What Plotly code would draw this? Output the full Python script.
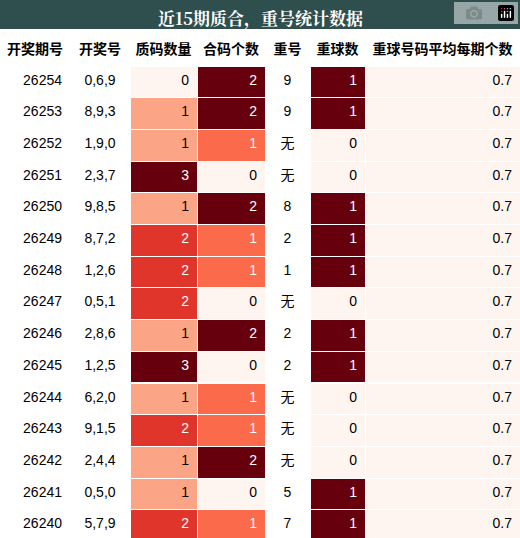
import plotly.graph_objects as go

title = "近15期质合，重号统计数据"
headers = ["开奖期号", "开奖号", "质码数量", "合码个数", "重号", "重球数", "重球号码平均每期个数"]
periods = [26254, 26253, 26252, 26251, 26250, 26249, 26248, 26247, 26246, 26245, 26244, 26243, 26242, 26241, 26240]
numbers = ["0,6,9", "8,9,3", "1,9,0", "2,3,7", "9,8,5", "8,7,2", "1,2,6", "0,5,1", "2,8,6", "1,2,5", "6,2,0", "9,1,5", "2,4,4", "0,5,0", "5,7,9"]
prime_cnt = [0, 1, 1, 3, 1, 2, 2, 2, 1, 3, 1, 2, 1, 1, 2]
comp_cnt = [2, 2, 1, 0, 2, 1, 1, 0, 2, 0, 1, 1, 2, 0, 1]
repeat_num = ["9", "9", "无", "无", "8", "2", "1", "无", "2", "2", "无", "无", "无", "5", "7"]
repeat_cnt = [1, 1, 0, 0, 1, 1, 1, 0, 1, 1, 0, 0, 0, 1, 1]
avg_cnt = [0.7] * 15

prime_colors = {0: "#fff5f0", 1: "#fca486", 2: "#e0352b", 3: "#67000d"}
comp_colors = {0: "#fff5f0", 1: "#fb6a4a", 2: "#67000d"}
rep_colors = {0: "#fff5f0", 1: "#67000d"}
prime_text = {0: "black", 1: "black", 2: "white", 3: "white"}
comp_text = {0: "black", 1: "white", 2: "white"}
rep_text = {0: "black", 1: "white"}

n = len(periods)
white = ["white"] * n
fills = [white, white,
         [prime_colors[v] for v in prime_cnt],
         [comp_colors[v] for v in comp_cnt],
         white,
         [rep_colors[v] for v in repeat_cnt],
         ["#fff5f0"] * n]
fcolors = [["black"] * n, ["black"] * n,
           [prime_text[v] for v in prime_cnt],
           [comp_text[v] for v in comp_cnt],
           ["black"] * n,
           [rep_text[v] for v in repeat_cnt],
           ["black"] * n]

fig = go.Figure(go.Table(
    columnwidth=[70, 60, 67, 68, 45, 55, 155],
    domain=dict(x=[0, 1], y=[0, 1 - 30 / 538]),
    header=dict(values=[f"<b>{h}</b>" for h in headers], fill_color="white",
                line=dict(color="white", width=1), height=30, align="center",
                font=dict(family="Noto Sans CJK SC", size=14, color="black")),
    cells=dict(values=[periods, numbers, prime_cnt, comp_cnt, repeat_num, repeat_cnt, avg_cnt],
               fill_color=fills, line=dict(color="white", width=1), height=31.7,
               align=["right", "center", "right", "right", "center", "right", "right"],
               font=dict(family="Liberation Sans, Noto Sans CJK SC", size=14, color=fcolors)),
))
fig.add_shape(type="rect", xref="paper", yref="paper", x0=0, x1=1, y0=1 - 29 / 538, y1=1,
              fillcolor="#2f4f4f", line=dict(width=0), layer="below")
fig.add_annotation(text=f"<b>{title}</b>", xref="paper", yref="paper", x=0.5, y=1 - 3 / 538,
                   yanchor="top", showarrow=False,
                   font=dict(family="Noto Serif CJK SC, Noto Sans CJK SC", size=17, color="white"))
fig.update_layout(width=520, height=538, margin=dict(l=0, r=0, t=0, b=0), paper_bgcolor="white")
fig.write_html("out.html", post_script="document.body.style.margin='0';document.body.style.overflow='hidden';")
